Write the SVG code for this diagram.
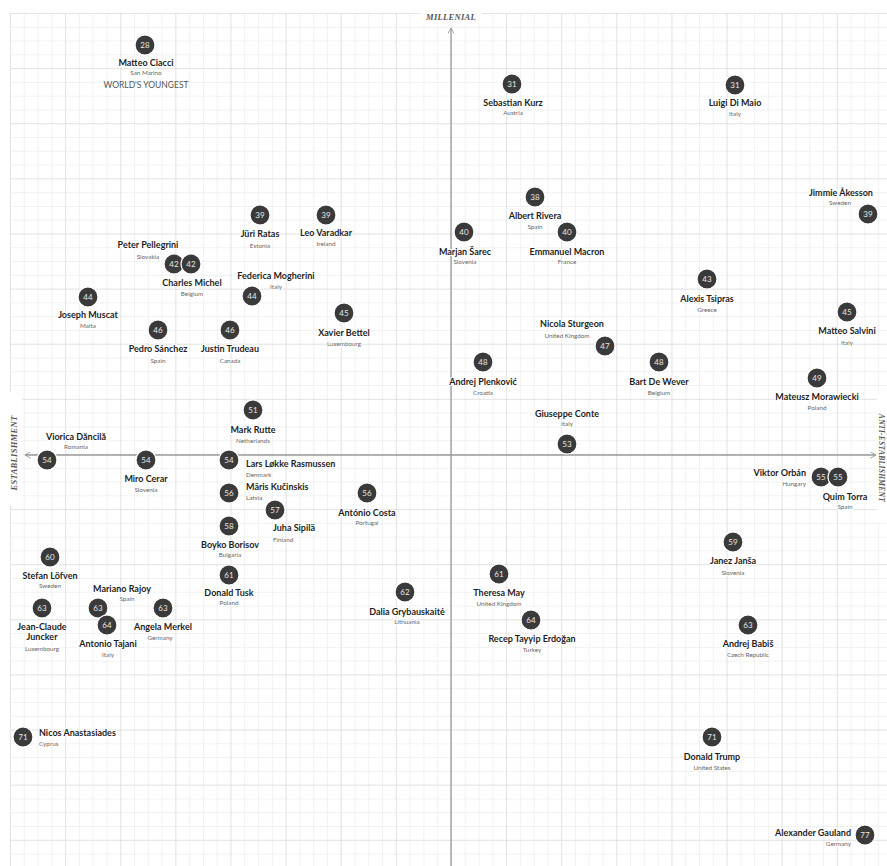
<svg xmlns="http://www.w3.org/2000/svg" width="887" height="866" viewBox="0 0 887 866">
<style>
.dot{fill:#3a3a3a;stroke:#fff;stroke-width:1.2}
.num{font-family:Lato,"Liberation Sans",sans-serif;font-size:8px;fill:#e8e8e8;text-anchor:middle}
.nm{font-family:Lato,"Liberation Sans",sans-serif;font-weight:700;font-size:9px;fill:#1e1e1e;text-anchor:middle;paint-order:stroke;stroke:#fff;stroke-width:2.2;stroke-linejoin:round}
.ct{font-family:Lato,"Liberation Sans",sans-serif;font-size:6.3px;fill:#666;text-anchor:middle;paint-order:stroke;stroke:#fff;stroke-width:1.8;stroke-linejoin:round}
.s{text-anchor:start}
.e{text-anchor:end}
.ax{fill:none;stroke:#9a9a9a;stroke-width:1.3}
.axl{font-family:"Liberation Serif",serif;font-style:italic;font-weight:700;font-size:8.5px;fill:#555;text-anchor:middle;letter-spacing:0.3px}
.yg{font-family:Lato,"Liberation Sans",sans-serif;font-size:8.5px;fill:#555;text-anchor:middle}
</style>
<defs>
<pattern id="minor" x="10" y="13" width="13.78" height="13.78" patternUnits="userSpaceOnUse">
<path d="M0 0H13.78M0 0V13.78" fill="none" stroke="#e6e6e6" stroke-width="1"/>
</pattern>
<pattern id="major" x="10" y="13" width="55.12" height="55.12" patternUnits="userSpaceOnUse">
<path d="M0 0H55.12M0 0V55.12" fill="none" stroke="#d6d6d6" stroke-width="1"/>
</pattern>
<marker id="chev" viewBox="0 0 10 10" refX="9" refY="5" markerWidth="7" markerHeight="7" markerUnits="userSpaceOnUse" orient="auto-start-reverse">
<path d="M1 0.5L9 5L1 9.5" fill="none" stroke="#9a9a9a" stroke-width="1.3"/>
</marker>
</defs>
<rect width="887" height="866" fill="#fff"/>
<rect x="10" y="13" width="877" height="853" fill="url(#minor)"/>
<rect x="10" y="13" width="877" height="853" fill="url(#major)"/>
<rect x="420" y="0" width="62" height="25" fill="#fff"/>
<rect x="0" y="392" width="22" height="113" fill="#fff"/>
<rect x="877" y="393" width="10" height="130" fill="#fff"/>

<g id="connectors">
<path class="ax" d="M451 866V28" marker-end="url(#chev)"/>
<path class="ax" d="M25 455H876" marker-start="url(#chev)" marker-end="url(#chev)"/>
</g>
<g id="axis-labels">
<text class="axl" x="451" y="20">MILLENIAL</text>
<text class="axl" transform="translate(17,453) rotate(-90)">ESTABLISHMENT</text>
<text class="axl" style="font-size:7.5px" transform="translate(879,458) rotate(90)">ANTI-ESTABLISHMENT</text>
</g>

<g id="nodes">
<g id="ciacci"><circle class="dot" cx="145" cy="45" r="10"/><text class="num" x="145" y="47.8">28</text><text class="nm" x="146" y="66">Matteo Ciacci</text><text class="ct" x="146" y="75.3">San Marino</text><text class="yg" x="146" y="88">WORLD'S YOUNGEST</text></g>
<g id="kurz"><circle class="dot" cx="512" cy="84" r="10"/><text class="num" x="512" y="86.8">31</text><text class="nm" x="513" y="106">Sebastian Kurz</text><text class="ct" x="513" y="115.3">Austria</text></g>
<g id="dimaio"><circle class="dot" cx="735" cy="85" r="10"/><text class="num" x="735" y="87.8">31</text><text class="nm" x="735" y="106">Luigi Di Maio</text><text class="ct" x="735" y="116.3">Italy</text></g>
<g id="rivera"><circle class="dot" cx="535" cy="197" r="10"/><text class="num" x="535" y="199.8">38</text><text class="nm" x="535" y="219">Albert Rivera</text><text class="ct" x="535" y="229.3">Spain</text></g>
<g id="akesson"><circle class="dot" cx="868" cy="214" r="10"/><text class="num" x="868" y="216.8">39</text><text class="nm" x="841" y="196">Jimmie Åkesson</text><text class="ct" x="840" y="205.3">Sweden</text></g>
<g id="ratas"><circle class="dot" cx="260" cy="215" r="10"/><text class="num" x="260" y="217.8">39</text><text class="nm" x="260" y="237">Jüri Ratas</text><text class="ct" x="260" y="248.3">Estonia</text></g>
<g id="varadkar"><circle class="dot" cx="326" cy="215" r="10"/><text class="num" x="326" y="217.8">39</text><text class="nm" x="326" y="236">Leo Varadkar</text><text class="ct" x="326" y="246.3">Ireland</text></g>
<g id="sarec"><circle class="dot" cx="464" cy="232" r="10"/><text class="num" x="464" y="234.8">40</text><text class="nm" x="465" y="255">Marjan Šarec</text><text class="ct" x="465" y="264.3">Slovenia</text></g>
<g id="macron"><circle class="dot" cx="567" cy="232" r="10"/><text class="num" x="567" y="234.8">40</text><text class="nm" x="567" y="255">Emmanuel Macron</text><text class="ct" x="567" y="264.3">France</text></g>
<g id="pellegrini"><circle class="dot" cx="174" cy="264" r="10"/><text class="num" x="174" y="266.8">42</text><text class="nm" x="148" y="248">Peter Pellegrini</text><text class="ct" x="148" y="259.3">Slovakia</text></g>
<g id="michel"><circle class="dot" cx="191" cy="264" r="10"/><text class="num" x="191" y="266.8">42</text><text class="nm" x="192" y="286">Charles Michel</text><text class="ct" x="192" y="296.3">Belgium</text></g>
<g id="mogherini"><circle class="dot" cx="252" cy="296" r="10"/><text class="num" x="252" y="298.8">44</text><text class="nm" x="276" y="279">Federica Mogherini</text><text class="ct" x="276" y="289.3">Italy</text></g>
<g id="muscat"><circle class="dot" cx="88" cy="297" r="10"/><text class="num" x="88" y="299.8">44</text><text class="nm" x="88" y="318">Joseph Muscat</text><text class="ct" x="88" y="328.3">Malta</text></g>
<g id="tsipras"><circle class="dot" cx="707" cy="279" r="10"/><text class="num" x="707" y="281.8">43</text><text class="nm" x="707" y="302">Alexis Tsipras</text><text class="ct" x="707" y="312.3">Greece</text></g>
<g id="bettel"><circle class="dot" cx="344" cy="313" r="10"/><text class="num" x="344" y="315.8">45</text><text class="nm" x="344" y="336">Xavier Bettel</text><text class="ct" x="344" y="346.3">Luxembourg</text></g>
<g id="salvini"><circle class="dot" cx="847" cy="312" r="10"/><text class="num" x="847" y="314.8">45</text><text class="nm" x="847" y="334">Matteo Salvini</text><text class="ct" x="847" y="345.3">Italy</text></g>
<g id="sanchez"><circle class="dot" cx="158" cy="330" r="10"/><text class="num" x="158" y="332.8">46</text><text class="nm" x="158" y="352">Pedro Sánchez</text><text class="ct" x="158" y="363.3">Spain</text></g>
<g id="trudeau"><circle class="dot" cx="230" cy="330" r="10"/><text class="num" x="230" y="332.8">46</text><text class="nm" x="230" y="352">Justin Trudeau</text><text class="ct" x="230" y="363.3">Canada</text></g>
<g id="sturgeon"><circle class="dot" cx="605" cy="346" r="10"/><text class="num" x="605" y="348.8">47</text><text class="nm" x="572" y="327">Nicola Sturgeon</text><text class="ct" x="567" y="338.3">United Kingdom</text></g>
<g id="plenkovic"><circle class="dot" cx="483" cy="362" r="10"/><text class="num" x="483" y="364.8">48</text><text class="nm" x="483" y="385">Andrej Plenković</text><text class="ct" x="483" y="395.3">Croatia</text></g>
<g id="dewever"><circle class="dot" cx="659" cy="362" r="10"/><text class="num" x="659" y="364.8">48</text><text class="nm" x="659" y="385">Bart De Wever</text><text class="ct" x="659" y="395.3">Belgium</text></g>
<g id="morawiecki"><circle class="dot" cx="817" cy="378" r="10"/><text class="num" x="817" y="380.8">49</text><text class="nm" x="817" y="400">Mateusz Morawiecki</text><text class="ct" x="817" y="410.3">Poland</text></g>
<g id="rutte"><circle class="dot" cx="253" cy="410" r="10"/><text class="num" x="253" y="412.8">51</text><text class="nm" x="253" y="433">Mark Rutte</text><text class="ct" x="253" y="443.3">Netherlands</text></g>
<g id="conte"><circle class="dot" cx="567" cy="444" r="10"/><text class="num" x="567" y="446.8">53</text><text class="nm" x="567" y="417">Giuseppe Conte</text><text class="ct" x="567" y="426.3">Italy</text></g>
<g id="dancila"><circle class="dot" cx="47" cy="460" r="10"/><text class="num" x="47" y="462.8">54</text><text class="nm" x="76" y="440">Viorica Dăncilă</text><text class="ct" x="76" y="449.3">Romania</text></g>
<g id="cerar"><circle class="dot" cx="146" cy="460" r="10"/><text class="num" x="146" y="462.8">54</text><text class="nm" x="146" y="482">Miro Cerar</text><text class="ct" x="146" y="492.3">Slovenia</text></g>
<g id="rasmussen"><circle class="dot" cx="229" cy="460" r="10"/><text class="num" x="229" y="462.8">54</text><text class="nm s" x="246" y="467">Lars Løkke Rasmussen</text><text class="ct s" x="246" y="477.3">Denmark</text></g>
<g id="orban"><circle class="dot" cx="821" cy="477" r="10"/><text class="num" x="821" y="479.8">55</text><text class="nm e" x="806" y="476">Viktor Orbán</text><text class="ct e" x="806" y="486.3">Hungary</text></g>
<g id="torra"><circle class="dot" cx="838" cy="477" r="10"/><text class="num" x="838" y="479.8">55</text><text class="nm" x="845" y="500">Quim Torra</text><text class="ct" x="845" y="509.3">Spain</text></g>
<g id="kucinskis"><circle class="dot" cx="229" cy="493" r="10"/><text class="num" x="229" y="495.8">56</text><text class="nm s" x="246" y="490">Māris Kučinskis</text><text class="ct s" x="246" y="500.3">Latvia</text></g>
<g id="costa"><circle class="dot" cx="367" cy="493" r="10"/><text class="num" x="367" y="495.8">56</text><text class="nm" x="367" y="516">António Costa</text><text class="ct" x="367" y="525.3">Portugal</text></g>
<g id="sipila"><circle class="dot" cx="275" cy="510" r="10"/><text class="num" x="275" y="512.8">57</text><text class="nm s" x="273" y="531">Juha Sipilä</text><text class="ct s" x="273" y="542.3">Finland</text></g>
<g id="borisov"><circle class="dot" cx="229" cy="526" r="10"/><text class="num" x="229" y="528.8">58</text><text class="nm" x="230" y="548">Boyko Borisov</text><text class="ct" x="230" y="557.3">Bulgaria</text></g>
<g id="lofven"><circle class="dot" cx="50" cy="557" r="10"/><text class="num" x="50" y="559.8">60</text><text class="nm" x="50" y="579">Stefan Löfven</text><text class="ct" x="50" y="588.3">Sweden</text></g>
<g id="tusk"><circle class="dot" cx="229" cy="575" r="10"/><text class="num" x="229" y="577.8">61</text><text class="nm" x="229" y="596">Donald Tusk</text><text class="ct" x="229" y="605.3">Poland</text></g>
<g id="may"><circle class="dot" cx="499" cy="574" r="10"/><text class="num" x="499" y="576.8">61</text><text class="nm" x="499" y="596">Theresa May</text><text class="ct" x="499" y="606.3">United Kingdom</text></g>
<g id="jansa"><circle class="dot" cx="733" cy="542" r="10"/><text class="num" x="733" y="544.8">59</text><text class="nm" x="733" y="564">Janez Janša</text><text class="ct" x="733" y="575.3">Slovenia</text></g>
<g id="grybauskaite"><circle class="dot" cx="405" cy="592" r="10"/><text class="num" x="405" y="594.8">62</text><text class="nm" x="407" y="615">Dalia Grybauskaitė</text><text class="ct" x="407" y="624.3">Lithuania</text></g>
<g id="rajoy"><circle class="dot" cx="98" cy="608" r="10"/><text class="num" x="98" y="610.8">63</text><text class="nm" x="122" y="592">Mariano Rajoy</text><text class="ct" x="127" y="601.3">Spain</text></g>
<g id="juncker"><circle class="dot" cx="42" cy="608" r="10"/><text class="num" x="42" y="610.8">63</text><text class="nm" x="42" y="630">Jean-Claude</text><text class="nm" x="42" y="640">Juncker</text><text class="ct" x="42" y="651.3">Luxembourg</text></g>
<g id="merkel"><circle class="dot" cx="163" cy="608" r="10"/><text class="num" x="163" y="610.8">63</text><text class="nm" x="163" y="630">Angela Merkel</text><text class="ct" x="160" y="640.3">Germany</text></g>
<g id="tajani"><circle class="dot" cx="107" cy="625" r="10"/><text class="num" x="107" y="627.8">64</text><text class="nm" x="108" y="647">Antonio Tajani</text><text class="ct" x="108" y="657.3">Italy</text></g>
<g id="erdogan"><circle class="dot" cx="531" cy="620" r="10"/><text class="num" x="531" y="622.8">64</text><text class="nm" x="532" y="642">Recep Tayyip Erdoğan</text><text class="ct" x="532" y="652.3">Turkey</text></g>
<g id="babis"><circle class="dot" cx="748" cy="625" r="10"/><text class="num" x="748" y="627.8">63</text><text class="nm" x="748" y="647">Andrej Babiš</text><text class="ct" x="748" y="657.3">Czech Republic</text></g>
<g id="anastasiades"><circle class="dot" cx="23" cy="737" r="10"/><text class="num" x="23" y="739.8">71</text><text class="nm s" x="39" y="736">Nicos Anastasiades</text><text class="ct s" x="39" y="746.3">Cyprus</text></g>
<g id="trump"><circle class="dot" cx="712" cy="737" r="10"/><text class="num" x="712" y="739.8">71</text><text class="nm" x="712" y="760">Donald Trump</text><text class="ct" x="712" y="770.3">United States</text></g>
<g id="gauland"><circle class="dot" cx="865" cy="835" r="10"/><text class="num" x="865" y="837.8">77</text><text class="nm e" x="851" y="836">Alexander Gauland</text><text class="ct e" x="851" y="846.3">Germany</text></g>
</g>
</svg>
